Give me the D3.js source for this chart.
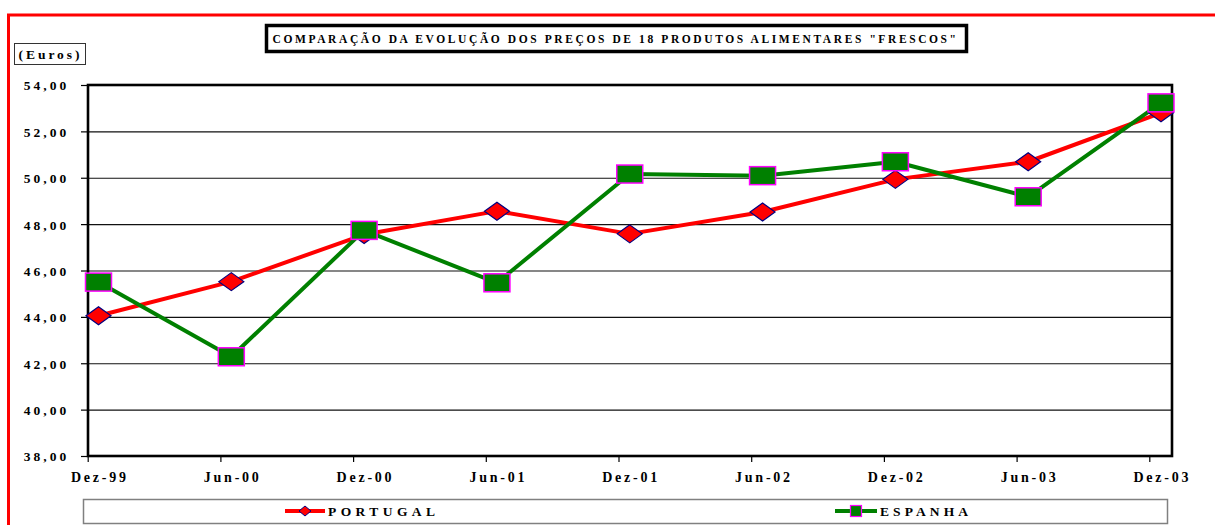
<!DOCTYPE html>
<html>
<head>
<meta charset="utf-8">
<script src="https://cdn.jsdelivr.net/npm/d3@7"></script>
<style>
  html, body { margin: 0; padding: 0; background: #fff; }
  svg { display: block; }
  svg text { font-family: 'Liberation Serif', serif !important; font-weight: bold; }
</style>
</head>
<body>
<svg id="chart" width="1215" height="525"></svg>
<script>
const categories = ["Dez-99","Jun-00","Dez-00","Jun-01","Dez-01","Jun-02","Dez-02","Jun-03","Dez-03"];
const portugal = [44.05, 45.52, 47.55, 48.56, 47.58, 48.52, 49.93, 50.69, 52.80];
const espanha  = [45.50, 42.28, 47.73, 45.47, 50.16, 50.09, 50.69, 49.18, 53.23];
const yTicks = [38, 40, 42, 44, 46, 48, 50, 52, 54];
const seriesNames = ["PORTUGAL", "ESPANHA"];
const titleText = 'COMPARAÇÃO DA EVOLUÇÃO DOS PREÇOS DE 18 PRODUTOS ALIMENTARES "FRESCOS"';
const unitText = "(Euros)";

(function () {
const svg = d3.select("#chart");
const styleText = (sel, size) => sel
  .attr("font-family", "Liberation Serif").attr("font-size", size)
  .attr("font-weight", "bold").attr("fill", "#000");

// spread glyphs so a text occupies a given width (anchor start or middle)
const spread = (sel, width) => sel.each(function () {
  const n = this.textContent.length;
  const natural = this.getComputedTextLength();
  const ls = n > 1 ? Math.max(0, (width - natural) / (n - 1)) : 0;
  d3.select(this).attr("letter-spacing", ls);
  const anchor = this.getAttribute("text-anchor");
  if (anchor === "middle") d3.select(this).attr("dx", ls / 2);
  else if (anchor === "end") d3.select(this).attr("dx", ls);
});

// outer red frame
svg.append("line").attr("x1", 7).attr("x2", 1215).attr("y1", 15).attr("y2", 15)
  .attr("stroke", "#ff0000").attr("stroke-width", 3);
svg.append("line").attr("x1", 8.5).attr("x2", 8.5).attr("y1", 14).attr("y2", 525)
  .attr("stroke", "#ff0000").attr("stroke-width", 3);

// plot geometry
const pL = 88, pR = 1172, pT = 85, pB = 456;
const x = d3.scalePoint().domain(categories).range([98.5, 1161]);
const xTick = d3.scalePoint().domain(categories).range([87.7, 1149.3]);
const y = d3.scaleLinear().domain([38, 54]).range([pB, pT]);

// gridlines
svg.append("g").attr("transform", `translate(${pL},0)`)
  .call(d3.axisLeft(y).tickValues(yTicks).tickSize(-(pR - pL)).tickFormat(""))
  .call(g => g.select(".domain").remove())
  .call(g => g.selectAll("line").attr("stroke", "#111").attr("stroke-width", 1.2));

// y axis ticks + labels
const fmt = v => d3.format(".2f")(v).replace(".", ",");
svg.append("g").attr("transform", `translate(${pL},0)`)
  .call(d3.axisLeft(y).tickValues(yTicks).tickSize(7).tickPadding(0).tickFormat(fmt))
  .call(g => g.attr("font-family", "Liberation Serif").attr("font-size", 13.5))
  .call(g => g.select(".domain").remove())
  .call(g => g.selectAll("line").attr("stroke", "#000").attr("stroke-width", 1.2))
  .call(g => spread(styleText(g.selectAll("text"), 13.5)
    .attr("x", -18.7).attr("dy", "0.36em"), 42.6));

// x axis ticks
svg.append("g").attr("transform", `translate(0,${pB})`)
  .call(d3.axisBottom(xTick).tickSize(6).tickFormat(""))
  .call(g => g.select(".domain").remove())
  .call(g => g.selectAll("line").attr("stroke", "#000").attr("stroke-width", 1.2));

// x labels
spread(styleText(svg.append("g").selectAll("text").data(categories).join("text"), 14)
  .attr("x", d => x(d)).attr("y", 482.3)
  .attr("text-anchor", "middle")
  .text(d => d), 55);

// plot border
svg.append("rect").attr("x", pL).attr("y", pT)
  .attr("width", pR - pL).attr("height", pB - pT)
  .attr("fill", "none").attr("stroke", "#000").attr("stroke-width", 2.6);

// lines
const line = d3.line().x((d, i) => x(categories[i])).y(d => y(d));
svg.append("path").datum(portugal).attr("d", line)
  .attr("fill", "none").attr("stroke", "#ff0000").attr("stroke-width", 4).attr("stroke-linejoin", "round");
svg.append("path").datum(espanha).attr("d", line)
  .attr("fill", "none").attr("stroke", "#008000").attr("stroke-width", 4).attr("stroke-linejoin", "round");

// markers
const diamond = (w, h) => `M0,${-h/2}L${w/2},0L0,${h/2}L${-w/2},0Z`;
svg.append("g").selectAll("path").data(portugal).join("path")
  .attr("transform", (d, i) => `translate(${x(categories[i])},${y(d)})`)
  .attr("d", diamond(25, 18))
  .attr("fill", "#ff0000").attr("stroke", "#000080").attr("stroke-width", 1.2);
svg.append("g").selectAll("rect").data(espanha).join("rect")
  .attr("x", (d, i) => x(categories[i]) - 13).attr("y", d => y(d) - 9)
  .attr("width", 26).attr("height", 18)
  .attr("fill", "#008000").attr("stroke", "#ff00ff").attr("stroke-width", 1.5);

// title box
svg.append("rect").attr("x", 266.5).attr("y", 25.5).attr("width", 700).attr("height", 26)
  .attr("fill", "#fff").attr("stroke", "#000").attr("stroke-width", 3.5);
spread(styleText(svg.append("text"), 11.5).attr("x", 272.5).attr("y", 42.5)
  .text(titleText), 683.5);

// unit box
svg.append("rect").attr("x", 14.5).attr("y", 43.5).attr("width", 71).attr("height", 21)
  .attr("fill", "#fff").attr("stroke", "#333").attr("stroke-width", 1);
spread(styleText(svg.append("text"), 13.5).attr("x", 18.5).attr("y", 59)
  .text(unitText), 61);

// legend
svg.append("rect").attr("x", 83.5).attr("y", 499.5).attr("width", 1084).attr("height", 24)
  .attr("fill", "#fff").attr("stroke", "#808080").attr("stroke-width", 1.5);
const legendItems = [
  { name: seriesNames[0], x0: 285, x1: 325, tx: 328, tw: 107, color: "#ff0000", marker: "diamond" },
  { name: seriesNames[1], x0: 835, x1: 877, tx: 880, tw: 88, color: "#008000", marker: "square" }
];
const lg = svg.append("g").selectAll("g").data(legendItems).join("g");
lg.append("line").attr("x1", d => d.x0).attr("x2", d => d.x1).attr("y1", 511).attr("y2", 511)
  .attr("stroke", d => d.color).attr("stroke-width", 4);
lg.filter(d => d.marker === "diamond").append("path")
  .attr("transform", d => `translate(${(d.x0 + d.x1) / 2},511)`)
  .attr("d", diamond(12, 10))
  .attr("fill", "#ff0000").attr("stroke", "#000080").attr("stroke-width", 1);
lg.filter(d => d.marker === "square").append("rect")
  .attr("x", d => (d.x0 + d.x1) / 2 - 5.5).attr("y", 505.5).attr("width", 11).attr("height", 11)
  .attr("fill", "#008000").attr("stroke", "#ff00ff").attr("stroke-width", 1.2);
lg.append("text").each(function (d) {
  const t = d3.select(this);
  styleText(t, 13.5).attr("x", d.tx).attr("y", 516).text(d.name);
  spread(t, d.tw);
});
})();
</script>
</body>
</html>
